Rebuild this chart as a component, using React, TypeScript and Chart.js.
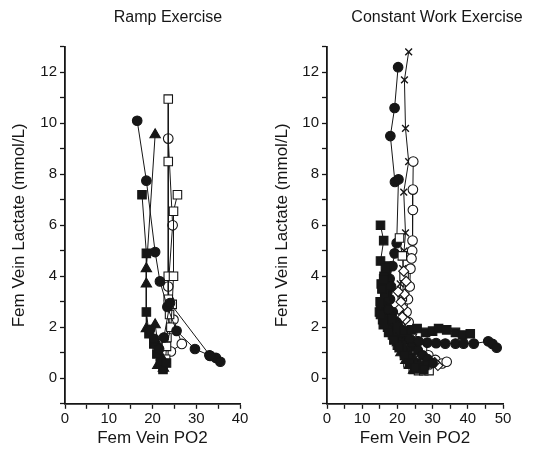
import React, { useEffect, useRef } from "react";
import { Chart, registerables } from "chart.js";

Chart.register(...registerables);

const FONT = "'Liberation Sans', Arial, Helvetica, sans-serif";
const INK = "#161616";

type Pt = [number, number];

// ---------- Ramp Exercise (left panel) ----------
const rampCircleA: Pt[] = [[16.5, 10.1], [18.6, 7.75], [20.6, 4.95], [21.7, 3.8], [23.4, 2.8], [25.5, 1.86], [29.7, 1.15], [33, 0.9], [34.5, 0.8], [35.5, 0.65]];
const rampTriangle: Pt[] = [[20.6, 9.55], [18.6, 4.3], [18.6, 3.7], [18.6, 1.95], [20.6, 2.1], [21.3, 1.3], [22, 0.85], [21.2, 0.5], [22.5, 0.4]];
const rampSquareF: Pt[] = [[17.6, 7.2], [18.6, 4.9], [18.6, 2.6], [19.2, 1.75], [20.3, 1.35], [21, 0.95], [21.8, 0.55], [22.4, 0.35], [23.2, 0.6]];
const rampSquareO1: Pt[] = [[23.6, 10.95], [23.6, 8.5], [23.6, 4.0], [23.6, 3.1], [23.9, 2.5], [23.3, 1.6], [22.6, 1.0], [22.0, 0.55]];
const rampSquareO2: Pt[] = [[25.7, 7.2], [24.8, 6.55], [24.8, 4.0], [24.5, 2.9], [24.2, 2.0], [23.2, 1.25], [23, 0.75]];
const rampCircleO: Pt[] = [[23.6, 9.4], [24.6, 6.0], [23.6, 3.6], [23.8, 3.05], [24.8, 2.3], [26.7, 1.35], [24.2, 1.05], [22.8, 0.6]];
const rampCircleB: Pt[] = [[19.4, 1.9], [20.4, 1.55], [21.5, 1.15], [22.6, 1.6], [24.0, 2.95], [33.2, 0.88]];

// ---------- Constant Work Exercise (right panel) ----------
const cwCircleA: Pt[] = [[20.2, 12.2], [19.2, 10.6], [18, 9.5], [19.3, 7.7], [20.3, 7.8], [19.8, 5.3], [19.2, 4.9], [18.6, 4.4], [17.8, 3.9], [17.2, 3.4], [16.6, 2.9], [16.2, 2.55], [17.2, 2.2], [18.4, 1.95], [20, 1.7], [21.5, 1.45], [23, 1.2], [24.5, 0.95], [26, 0.75]];
const cwCross: Pt[] = [[23.2, 12.8], [22, 11.7], [22.3, 9.8], [23.2, 8.5], [21.8, 7.3], [22.3, 5.7], [21.9, 5.0], [21.5, 4.3], [20.8, 3.7], [21.2, 3.1], [21.8, 2.5], [21.3, 1.9], [21.8, 1.35], [22.8, 0.95], [23.8, 0.6], [24.8, 0.4]];
const cwCircleO: Pt[] = [[24.5, 8.5], [24.4, 7.4], [24.4, 6.6], [24.3, 5.4], [24.2, 5.0], [24.0, 4.7], [23.7, 4.3], [23.5, 3.6], [23.0, 3.1], [22.6, 2.6], [23.2, 2.2], [24.2, 1.8], [25.5, 1.45], [27, 1.15], [28.8, 0.9], [30.8, 0.72], [32.7, 0.58], [34, 0.65]];
const cwSquareA: Pt[] = [[15.2, 6.0], [16.1, 5.4], [15.2, 4.6], [16.6, 4.3], [16.1, 3.9], [15.6, 3.5], [15.1, 3.0], [15.2, 2.5], [16.0, 2.1], [17.5, 1.8], [19, 1.5], [20.5, 1.2], [22, 0.9], [23.5, 0.6], [25, 0.4]];
const cwSquareB: Pt[] = [[18.5, 2.3], [20, 2.0], [22, 1.85], [24, 1.9], [25.6, 1.95], [28, 1.8], [30, 1.85], [31.7, 1.95], [34, 1.9], [36.5, 1.8], [38.5, 1.7], [40.7, 1.75]];
const cwCircleB: Pt[] = [[17.5, 2.7], [19, 2.2], [21, 1.8], [23.5, 1.55], [26, 1.45], [28.5, 1.4], [31, 1.38], [33.6, 1.36], [36.5, 1.36], [38.8, 1.36], [41.7, 1.36], [45.8, 1.45], [47, 1.35], [48.2, 1.2]];
const cwDiamond: Pt[] = [[20.2, 3.4], [21.0, 3.0], [20.4, 2.7], [21.4, 2.4], [20.8, 2.0], [22.4, 1.7], [23.8, 1.5], [22.8, 1.2], [25, 1.0], [26.8, 0.8], [28.8, 0.7], [30.6, 0.62]];
const cwDiamond2: Pt[] = [[21.8, 4.2], [22.5, 3.8], [22.0, 3.3], [21.5, 2.8], [22.3, 2.3], [21.9, 1.8], [23, 1.4], [24.5, 1.2], [26, 0.9], [27.5, 0.65], [29.5, 0.55], [31.5, 0.5]];
const cwSquareO: Pt[] = [[20.6, 5.5], [21.4, 4.8], [21.9, 4.0], [21.4, 3.2], [20.5, 2.5], [21, 1.6], [22, 1.0], [23, 0.6], [24.5, 0.35], [26, 0.3], [27.5, 0.3], [29, 0.3]];
const cwTriangle: Pt[] = [[16.8, 3.3], [17.4, 2.8], [18, 2.35], [19, 1.9], [20, 1.4], [21, 1.0], [22.4, 0.7], [23.4, 0.5], [24.6, 0.32]];
const cwSquareC: Pt[] = [[16.8, 4.1], [17.2, 3.6], [16.6, 3.2], [17, 2.7], [18, 2.4], [18.6, 2.0], [20, 1.65], [21.5, 1.35], [23, 1.05], [24, 0.8], [25.5, 0.6], [26.5, 0.45], [27.8, 0.5]];
const cwSquareD: Pt[] = [[16.9, 4.4], [16.2, 4.0], [15.4, 3.7], [16.4, 3.3], [15.3, 2.8], [14.9, 2.6], [15.8, 2.3], [17.2, 2.0], [18.6, 1.7], [20, 1.3], [21.6, 1.1], [23.2, 0.8], [24.6, 0.55], [26, 0.45], [27.5, 0.35]];
const cwCircleC: Pt[] = [[18.2, 3.6], [17.9, 3.1], [18.7, 2.6], [19.8, 2.2], [21, 1.9], [22.5, 1.55], [24.2, 1.3], [25.8, 1.1], [27.2, 0.9], [28.6, 0.75], [30, 0.6]];

const yMin = -1;
const yMax = 13;
const rampXMax = 40;
const cwXMax = 50;
const xTitle = "Fem Vein PO2";
const yTitle = "Fem Vein Lactate (mmol/L)";

type Marker = { data: Pt[]; style: string; filled: boolean };

const rampSeries: Marker[] = [
  { data: rampCircleB, style: "circle", filled: true },
  { data: rampSquareF, style: "rect", filled: true },
  { data: rampTriangle, style: "triangle", filled: true },
  { data: rampCircleA, style: "circle", filled: true },
  { data: rampSquareO2, style: "rect", filled: false },
  { data: rampSquareO1, style: "rect", filled: false },
  { data: rampCircleO, style: "circle", filled: false },
];

const cwSeries: Marker[] = [
  { data: cwSquareB, style: "rect", filled: true },
  { data: cwCircleB, style: "circle", filled: true },
  { data: cwSquareA, style: "rect", filled: true },
  { data: cwSquareD, style: "rect", filled: true },
  { data: cwSquareC, style: "rect", filled: true },
  { data: cwCircleC, style: "circle", filled: true },
  { data: cwTriangle, style: "triangle", filled: true },
  { data: cwDiamond, style: "rectRot", filled: false },
  { data: cwDiamond2, style: "rectRot", filled: false },
  { data: cwSquareO, style: "rect", filled: false },
  { data: cwCircleO, style: "circle", filled: false },
  { data: cwCircleA, style: "circle", filled: true },
  { data: cwCross, style: "crossRot", filled: false },
];

const radiusFor = (s: string) =>
  s === "circle" ? 4.8 : s === "rect" ? 6 : s === "triangle" ? 6 : s === "rectRot" ? 5 : 4.8;

function Panel(props: {
  series: Marker[];
  xMax: number;
  axisX: number;
  plotRight: number;
  yTitlePad: number;
}) {
  const ref = useRef<HTMLCanvasElement>(null);
  useEffect(() => {
    const W = 267;
    const H = 456;
    const top = 46.8;
    const bottom = 403.8;
    const chart = new Chart(ref.current!, {
      type: "scatter",
      data: {
        datasets: props.series.map((s) => ({
          data: s.data.map(([x, y]) => ({ x, y })),
          showLine: true,
          borderColor: INK,
          borderWidth: 1,
          pointStyle: s.style as any,
          pointRadius: radiusFor(s.style),
          pointBorderWidth: s.style === "crossRot" ? 1.4 : 1.1,
          pointBorderColor: INK,
          pointBackgroundColor: s.filled ? INK : "#ffffff",
        })),
      },
      options: {
        responsive: false,
        animation: false,
        devicePixelRatio: 1,
        layout: { padding: { left: 0, top: top, right: W - props.plotRight, bottom: 0 } },
        plugins: { legend: { display: false }, tooltip: { enabled: false } },
        scales: {
          x: {
            type: "linear",
            min: 0,
            max: props.xMax,
            afterFit: (sc: any) => {
              sc.height = H - bottom;
            },
            ticks: {
              stepSize: 5,
              autoSkip: false,
              maxRotation: 0,
              padding: 1,
              color: INK,
              font: { family: FONT, size: 15 },
              callback: (v: any) => (Number(v) % 10 === 0 ? String(v) : ""),
            },
            grid: { display: true, drawOnChartArea: false, drawTicks: true, tickLength: 5, tickColor: INK, tickWidth: 1.3 },
            border: { display: true, color: INK, width: 1.8 },
            title: { display: true, text: xTitle, color: INK, font: { family: FONT, size: 17 }, padding: { top: 0, bottom: 7 } },
          },
          y: {
            type: "linear",
            min: yMin,
            max: yMax,
            afterFit: (sc: any) => {
              sc.width = props.axisX;
            },
            ticks: {
              stepSize: 1,
              autoSkip: false,
              padding: 3,
              color: INK,
              font: { family: FONT, size: 15 },
              callback: (v: any) => (Number(v) % 2 === 0 ? String(v) : ""),
            },
            grid: { display: true, drawOnChartArea: false, drawTicks: true, tickLength: 5, tickColor: INK, tickWidth: 1.3 },
            border: { display: true, color: INK, width: 1.8 },
            title: { display: true, text: yTitle, color: INK, font: { family: FONT, size: 17 }, padding: { top: props.yTitlePad, bottom: 0 } },
          },
        },
      } as any,
    });
    return () => chart.destroy();
  }, []);
  return <canvas ref={ref} width={267} height={456} style={{ width: 267, height: 456, display: "block" }} />;
}

export default function App() {
  const titleStyle: React.CSSProperties = {
    position: "absolute",
    top: 8,
    fontFamily: FONT,
    fontSize: 16,
    color: INK,
    whiteSpace: "nowrap",
    textAlign: "center",
  };
  return (
    <div style={{ position: "absolute", left: 0, top: 0, width: 534, height: 456, background: "#fff", overflow: "hidden" }}>
      <div style={{ position: "absolute", left: 0, top: 0 }}>
        <Panel series={rampSeries} xMax={rampXMax} axisX={65} plotRight={240} yTitlePad={9} />
      </div>
      <div style={{ position: "absolute", left: 267, top: 0 }}>
        <Panel series={cwSeries} xMax={cwXMax} axisX={60} plotRight={236} yTitlePad={5} />
      </div>
      <div style={{ ...titleStyle, left: 98, width: 140 }}>Ramp Exercise</div>
      <div style={{ ...titleStyle, left: 339, width: 196 }}>Constant Work Exercise</div>
    </div>
  );
}
